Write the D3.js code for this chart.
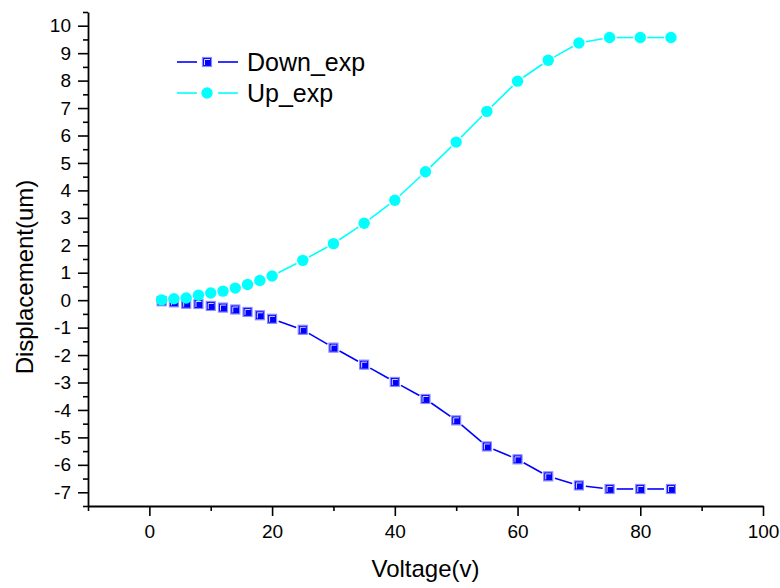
<!DOCTYPE html>
<html>
<head>
<meta charset="utf-8">
<script src="https://cdn.jsdelivr.net/npm/d3@7"></script>
<style>
  html, body { margin: 0; padding: 0; background: #fff; }
  svg { display: block; }
  text { font-family: "Liberation Sans", Arial, sans-serif; fill: #000; }
</style>
</head>
<body>
<script>
// ---- data ----
const voltage = [2, 4, 6, 8, 10, 12, 14, 16, 18, 20, 25, 30, 35, 40, 45, 50, 55, 60, 65, 70, 75, 80, 85];
const downExp = [-0.04, -0.08, -0.13, -0.14, -0.21, -0.27, -0.34, -0.43, -0.55, -0.68, -1.08, -1.73, -2.35, -2.98, -3.6, -4.38, -5.33, -5.8, -6.42, -6.75, -6.88, -6.88, -6.88];
const upExp = [0.01, 0.05, 0.08, 0.18, 0.26, 0.33, 0.44, 0.57, 0.72, 0.88, 1.45, 2.06, 2.8, 3.64, 4.68, 5.76, 6.88, 7.98, 8.74, 9.37, 9.57, 9.57, 9.57];
const seriesNames = ["Down_exp", "Up_exp"];
const xMajorTicks = [0, 20, 40, 60, 80, 100];
const xMinorTicks = [-10, 10, 30, 50, 70, 90];
const yMajorTicks = [-7, -6, -5, -4, -3, -2, -1, 0, 1, 2, 3, 4, 5, 6, 7, 8, 9, 10];
const yMinorTicks = [-7.5, -6.5, -5.5, -4.5, -3.5, -2.5, -1.5, -0.5, 0.5, 1.5, 2.5, 3.5, 4.5, 5.5, 6.5, 7.5, 8.5, 9.5, 10.5];
const xTitle = "Voltage(v)";
const yTitle = "Displacement(um)";

// ---- layout ----
const W = 780, H = 588;
const svg = d3.select("body").append("svg").attr("width", W).attr("height", H);

const x = d3.scaleLinear().domain([-10, 100]).range([88, 763]);
const y = d3.scaleLinear().domain([-7.5, 10.5]).range([506, 12]);

const downColor = "#0000ff", upColor = "#00ffff";

// ---- axes ----
function styleAxis(g) {
  g.selectAll("path.domain").attr("stroke", "#000").attr("stroke-width", 1.8);
  g.selectAll(".tick line").attr("stroke", "#000").attr("stroke-width", 1.6);
}

const gxMinor = svg.append("g").attr("transform", `translate(0,${y.range()[0]})`)
  .call(d3.axisBottom(x).tickValues(xMinorTicks).tickSize(5).tickSizeOuter(0).tickFormat(""));
gxMinor.select("path.domain").remove();
styleAxis(gxMinor);

const gx = svg.append("g").attr("transform", `translate(0,${y.range()[0]})`)
  .call(d3.axisBottom(x).tickValues(xMajorTicks).tickSize(10).tickSizeOuter(0).tickPadding(9).tickFormat(d => String(d)));
styleAxis(gx);
gx.selectAll("text").attr("font-size", 19).style("font-family", "'Liberation Sans', Arial, sans-serif");

const gyMinor = svg.append("g").attr("transform", `translate(${x.range()[0]},0)`)
  .call(d3.axisLeft(y).tickValues(yMinorTicks).tickSize(5).tickSizeOuter(0).tickFormat(""));
gyMinor.select("path.domain").remove();
styleAxis(gyMinor);

const gy = svg.append("g").attr("transform", `translate(${x.range()[0]},0)`)
  .call(d3.axisLeft(y).tickValues(yMajorTicks).tickSize(10).tickSizeOuter(0).tickPadding(7).tickFormat(d => String(d)));
styleAxis(gy);
gy.selectAll("text").attr("font-size", 19).style("font-family", "'Liberation Sans', Arial, sans-serif");

// axis titles
svg.append("text")
  .attr("x", (x.range()[0] + x.range()[1]) / 2)
  .attr("y", 577)
  .attr("text-anchor", "middle")
  .attr("font-size", 24)
  .text(xTitle);

svg.append("text")
  .attr("transform", `translate(33,${277}) rotate(-90)`)
  .attr("text-anchor", "middle")
  .attr("font-size", 24)
  .text(yTitle);

// ---- series ----
const GAP = 7;
function drawGappedLine(vals, color) {
  const pts = voltage.map((v, i) => [x(v), y(vals[i])]);
  const segs = [];
  for (let i = 0; i < pts.length - 1; i++) {
    const [x1, y1] = pts[i], [x2, y2] = pts[i + 1];
    const L = Math.hypot(x2 - x1, y2 - y1);
    if (L > 2 * GAP + 1) {
      const ux = (x2 - x1) / L, uy = (y2 - y1) / L;
      segs.push([x1 + ux * GAP, y1 + uy * GAP, x2 - ux * GAP, y2 - uy * GAP]);
    }
  }
  svg.append("g").selectAll("line").data(segs).join("line")
    .attr("x1", d => d[0]).attr("y1", d => d[1])
    .attr("x2", d => d[2]).attr("y2", d => d[3])
    .attr("stroke", color).attr("stroke-width", 1.6);
}

function squareMarker(g, cx, cy) {
  g.append("rect")
    .attr("x", cx - 4.5).attr("y", cy - 4.5).attr("width", 9).attr("height", 9)
    .attr("fill", downColor).attr("stroke", "#8a8aff").attr("stroke-width", 1.2);
  g.append("path")
    .attr("d", `M${cx - 2.5},${cy + 3}V${cy - 2.5}H${cx + 3}`)
    .attr("fill", "none").attr("stroke", "#d8d8ff").attr("stroke-width", 1);
}
function circleMarker(g, cx, cy) {
  g.append("circle").attr("cx", cx).attr("cy", cy).attr("r", 5.7).attr("fill", upColor);
}

drawGappedLine(downExp, downColor);
const gDown = svg.append("g");
voltage.forEach((v, i) => squareMarker(gDown, x(v), y(downExp[i])));

drawGappedLine(upExp, upColor);
const gUp = svg.append("g");
voltage.forEach((v, i) => circleMarker(gUp, x(v), y(upExp[i])));

// ---- legend ----
const legend = svg.append("g");
const legendItems = [
  { name: seriesNames[0], color: downColor, marker: squareMarker, ly: 62 },
  { name: seriesNames[1], color: upColor, marker: circleMarker, ly: 93 }
];
legendItems.forEach(it => {
  legend.append("line").attr("x1", 177).attr("x2", 197).attr("y1", it.ly).attr("y2", it.ly)
    .attr("stroke", it.color).attr("stroke-width", 1.6);
  legend.append("line").attr("x1", 218).attr("x2", 238).attr("y1", it.ly).attr("y2", it.ly)
    .attr("stroke", it.color).attr("stroke-width", 1.6);
  it.marker(legend, 207, it.ly);
  legend.append("text").attr("x", 247).attr("y", it.ly + 8.5)
    .attr("font-size", 25).text(it.name);
});
</script>
</body>
</html>
